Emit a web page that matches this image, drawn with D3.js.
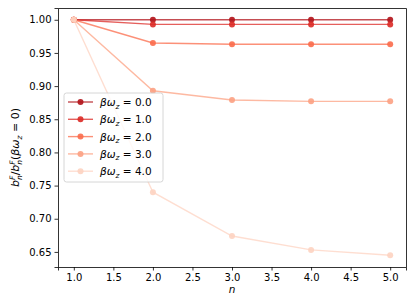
<!DOCTYPE html>
<html lang="en">
<head>
    <meta charset="UTF-8">
    <title>b_n^F ratio vs n</title>
    <script src="https://cdnjs.cloudflare.com/ajax/libs/d3/7.8.5/d3.min.js"></script>
    <style>
        body { margin: 0; padding: 0; background: white; }
        text { font-family: "DejaVu Sans", sans-serif; fill: #000; }
        .tick text { font-size: 10px; }
        .tick line { stroke: #000; stroke-width: 0.8; }
        .domain { stroke: #000; stroke-width: 0.8; }
    </style>
</head>
<body>
    <div id="chart"></div>

    <script>
        // data
        const nValues = [1, 2, 3, 4, 5];
        const betaLabels = ["0.0", "1.0", "2.0", "3.0", "4.0"];
        const ratio0 = [1.000, 1.000, 1.000, 1.000, 1.000];
        const ratio1 = [1.000, 0.993, 0.993, 0.993, 0.993];
        const ratio2 = [1.000, 0.965, 0.963, 0.963, 0.963];
        const ratio3 = [1.000, 0.893, 0.879, 0.877, 0.877];
        const ratio4 = [1.000, 0.740, 0.674, 0.653, 0.645];
        const xTicks = [1.0, 1.5, 2.0, 2.5, 3.0, 3.5, 4.0, 4.5, 5.0];
        const yTicks = [0.65, 0.70, 0.75, 0.80, 0.85, 0.90, 0.95, 1.00];

        const series = [ratio0, ratio1, ratio2, ratio3, ratio4];
        const colors = ["#b11218", "#dc2a25", "#fb6b4b", "#fca183", "#fdd3c1"];

        const width = 415, height = 305;
        const margin = { left: 58, right: 9, top: 8, bottom: 38 };

        const svg = d3.select("#chart").append("svg")
            .attr("width", width)
            .attr("height", height);

        const x = d3.scaleLinear().domain([0.8, 5.2]).range([margin.left, width - margin.right]);
        const y = d3.scaleLinear().domain([0.62725, 1.01775]).range([height - margin.bottom, margin.top]);

        // axes
        svg.append("g")
            .attr("transform", `translate(0,${height - margin.bottom})`)
            .call(d3.axisBottom(x).tickValues(xTicks).tickFormat(d3.format(".1f")).tickSize(3.5).tickPadding(3));
        svg.append("g")
            .attr("transform", `translate(${margin.left},0)`)
            .call(d3.axisLeft(y).tickValues(yTicks).tickFormat(d3.format(".2f")).tickSize(3.5).tickPadding(3));
        svg.append("g")
            .attr("transform", `translate(0,${margin.top})`)
            .call(d3.axisTop(x).tickValues([]).tickSizeOuter(0));
        svg.append("g")
            .attr("transform", `translate(${width - margin.right},0)`)
            .call(d3.axisRight(y).tickValues([]).tickSizeOuter(0));

        // lines and markers
        const line = d3.line().x((d, i) => x(nValues[i])).y(d => y(d));
        series.forEach((s, k) => {
            svg.append("path")
                .datum(s)
                .attr("fill", "none")
                .attr("stroke", colors[k])
                .attr("stroke-opacity", 0.75)
                .attr("stroke-width", 1.4)
                .attr("d", line);
            svg.selectAll(null)
                .data(s)
                .enter().append("circle")
                .attr("cx", (d, i) => x(nValues[i]))
                .attr("cy", d => y(d))
                .attr("r", 3)
                .attr("fill", colors[k])
                .attr("fill-opacity", 0.9);
        });

        // axis labels
        svg.append("text")
            .attr("x", (margin.left + width - margin.right) / 2)
            .attr("y", height - 12)
            .attr("text-anchor", "middle")
            .attr("font-size", 10.5)
            .attr("font-style", "italic")
            .text("n");

        const yl = svg.append("text")
            .attr("transform", `translate(19,${(margin.top + height - margin.bottom) / 2 + 10}) rotate(-90)`)
            .attr("text-anchor", "middle")
            .attr("font-size", 11);
        yl.append("tspan").attr("font-style", "italic").text("b");
        yl.append("tspan").attr("font-style", "italic").attr("font-size", 7.5).attr("dy", -4.5).text("F");
        yl.append("tspan").attr("font-style", "italic").attr("font-size", 7.5).attr("dx", -4.5).attr("dy", 7.5).text("n");
        yl.append("tspan").attr("dy", -3).text("/");
        yl.append("tspan").attr("font-style", "italic").text("b");
        yl.append("tspan").attr("font-style", "italic").attr("font-size", 7.5).attr("dy", -4.5).text("F");
        yl.append("tspan").attr("font-style", "italic").attr("font-size", 7.5).attr("dx", -4.5).attr("dy", 7.5).text("n");
        yl.append("tspan").attr("dy", -3).text("(");
        yl.append("tspan").attr("font-style", "italic").text("βω");
        yl.append("tspan").attr("font-style", "italic").attr("font-size", 7.5).attr("dy", 2.5).text("z");
        yl.append("tspan").attr("dy", -2.5).text(" = 0)");

        // legend
        const legend = svg.append("g").attr("transform", "translate(64,93)");
        legend.append("rect")
            .attr("width", 99).attr("height", 89)
            .attr("rx", 2.5)
            .attr("fill", "white").attr("fill-opacity", 0.8)
            .attr("stroke", "#ccc").attr("stroke-width", 0.8);
        betaLabels.forEach((b, k) => {
            const row = legend.append("g").attr("transform", `translate(0,${9 + k * 17.3})`);
            row.append("line")
                .attr("x1", 4).attr("x2", 29)
                .attr("stroke", colors[k]).attr("stroke-opacity", 0.75).attr("stroke-width", 1.4);
            row.append("circle")
                .attr("cx", 16.5).attr("r", 3)
                .attr("fill", colors[k]).attr("fill-opacity", 0.9);
            const t = row.append("text")
                .attr("x", 36).attr("y", 4)
                .attr("font-size", 10.5);
            t.append("tspan").attr("font-style", "italic").text("βω");
            t.append("tspan").attr("font-style", "italic").attr("font-size", 7.5).attr("dy", 2.5).text("z");
            t.append("tspan").attr("dy", -2.5).text(" = " + b);
        });
    </script>
</body>
</html>
